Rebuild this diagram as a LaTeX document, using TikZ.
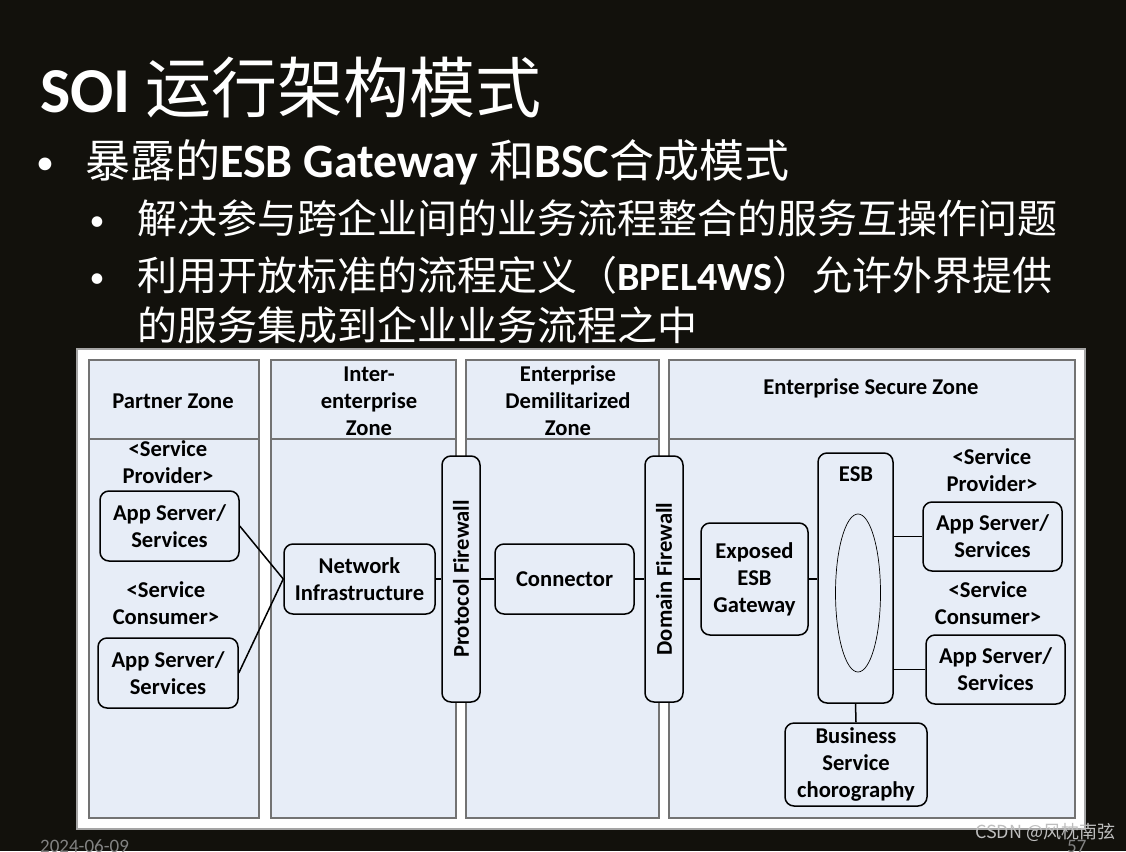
\documentclass[tikz,border=0pt]{standalone}
\usepackage{fontspec}
\usetikzlibrary{shapes.geometric}
\setmainfont{Carlito}
\newfontfamily\cjk{Noto Sans CJK SC}
\definecolor{bgdark}{RGB}{18,17,12}
\definecolor{zonefill}{RGB}{231,237,247}
\definecolor{zonegray}{RGB}{115,115,115}
\definecolor{panelgray}{RGB}{165,165,165}
\definecolor{footgray}{RGB}{130,130,130}
\definecolor{wmgray}{RGB}{190,190,190}
\begin{document}
\begin{tikzpicture}[x=1pt,y=-1pt,
  zone/.style={draw=zonegray, fill=zonefill, line width=1.1pt},
  box/.style={draw=black, fill=zonefill, line width=1.5pt, rounded corners=9pt,
    font=\bfseries\fontsize{22.6}{27}\selectfont, align=center, inner sep=0pt},
  lbl/.style={font=\bfseries\fontsize{22.6}{27}\selectfont, align=center, inner sep=0pt, text=black},
  link/.style={draw=black, line width=1.5pt},
  slide/.style={text=white, inner sep=0pt, anchor=base west},
  dot/.style={text=white, inner sep=0pt, anchor=base}
]
\useasboundingbox (0,0) rectangle (1126,851);
\fill[bgdark] (0,0) rectangle (1126,851);
\begin{scope}
\clip (0,0) rectangle (1126,851);

% ---- slide text ----
\node[slide] (title) at (40,112) {\fontsize{64}{70}\selectfont\bfseries SOI {\mdseries\fontsize{66}{70}\selectfont\cjk 运行架构模式}};
\node[dot] (d1) at (45,174) {\fontsize{36}{40}\selectfont •};
\node[slide] (b1) at (85,177) {\fontsize{45}{50}\selectfont{\cjk 暴露的}{\fontsize{48}{50}\selectfont\bfseries ESB Gateway }{\cjk 和}{\fontsize{48}{50}\selectfont\bfseries BSC}{\cjk 合成模式}};
\node[dot] (d2) at (97,230) {\fontsize{30}{34}\selectfont •};
\node[slide] (b2) at (137,233) {\fontsize{40}{46}\selectfont\cjk 解决参与跨企业间的业务流程整合的服务互操作问题};
\node[dot] (d3) at (97,287) {\fontsize{30}{34}\selectfont •};
\node[slide] (b3) at (137,290) {\fontsize{40}{46}\selectfont{\cjk 利用开放标准的流程定义（}\textbf{BPEL4WS}{\cjk ）允许外界提供}};
\node[slide] (b4) at (137,340) {\fontsize{40}{46}\selectfont\cjk 的服务集成到企业业务流程之中};

% ---- panel ----
\filldraw[fill=white, draw=panelgray, line width=1.2pt] (77,349) rectangle (1085,829);
\filldraw[zone] (89,360) rectangle (259,818);
\filldraw[zone] (271,360) rectangle (456,818);
\filldraw[zone] (466,360) rectangle (659,818);
\filldraw[zone] (669,360) rectangle (1075,818);
\draw[draw=zonegray, line width=1.1pt] (89,439) -- (259,439);
\draw[draw=zonegray, line width=1.1pt] (271,439) -- (456,439);
\draw[draw=zonegray, line width=1.1pt] (466,439) -- (659,439);
\draw[draw=zonegray, line width=1.1pt] (669,439) -- (1075,439);

% ---- zone headers ----
\node[lbl] (h1) at (173,401) {Partner Zone};
\node[lbl] (h2) at (369,401) {Inter-\\enterprise\\Zone};
\node[lbl] (h3) at (568,401) {Enterprise\\Demilitarized\\Zone};
\node[lbl] (h4) at (871,388) {Enterprise Secure Zone};

% ---- role labels ----
\node[lbl] (sp1) at (168,462.5) {<Service\\Provider>};
\node[lbl] (sc1) at (166,603.5) {<Service\\Consumer>};
\node[lbl] (sp2) at (992,470) {<Service\\Provider>};
\node[lbl] (sc2) at (988,603.5) {<Service\\Consumer>};

% ---- boxes ----
\node[box, minimum width=139pt, minimum height=70pt] (app1) at (169.5,526) {App Server/\\Services};
\node[box, minimum width=140pt, minimum height=70pt] (app2) at (168,673) {App Server/\\Services};
\node[box, minimum width=151pt, minimum height=70pt] (net) at (359.5,579) {Network\\Infrastructure};
\node[box, minimum width=38pt, minimum height=246pt] (pfw) at (461,579) {};
\node[lbl, rotate=90] (pfwt) at (pfw.center) {Protocol Firewall};
\node[box, minimum width=139pt, minimum height=70pt] (conn) at (564.5,579) {Connector};
\node[box, minimum width=38pt, minimum height=246pt] (dfw) at (664,579) {};
\node[lbl, rotate=90] (dfwt) at (dfw.center) {Domain Firewall};
\node[box, minimum width=107pt, minimum height=112pt] (exp) at (754.5,579) {Exposed\\ESB\\Gateway};
\node[box, minimum width=75pt, minimum height=250pt] (esb) at (855.5,578) {};
\node[lbl] (esbt) at (856,474) {ESB};
\node[draw=black, line width=0.7pt, ellipse, minimum width=45pt, minimum height=158pt, inner sep=0pt] (ell) at (858,593) {};
\node[box, minimum width=139pt, minimum height=69pt] (app3) at (992.5,536.5) {App Server/\\Services};
\node[box, minimum width=139pt, minimum height=69pt] (app4) at (995.5,669.5) {App Server/\\Services};
\node[box, minimum width=142pt, minimum height=83pt] (bsc) at (856,764.5) {Business\\Service\\chorography};

% ---- connectors ----
\draw[link] (app1.east) -- (net.west);
\draw[link] (app2.east) -- (net.west);
\draw[link] (net.east) -- (pfw.west);
\draw[link] (pfw.east) -- (conn.west);
\draw[link] (conn.east) -- (dfw.west);
\draw[link] (dfw.east) -- (exp.west);
\draw[link] (exp.east) -- (exp.east -| esb.west);
\draw[link] (app3.west) -- (app3.west -| esb.east);
\draw[link] (app4.west) -- (app4.west -| esb.east);
\draw[link] (esb.south) -- (bsc.north);

% ---- footer ----
\node[slide, text=footgray] (date) at (40,852) {\fontsize{19}{22}\selectfont 2024-06-09};
\node[slide, text=footgray] (page) at (1067,852) {\fontsize{19}{22}\selectfont 57};
\node[slide, text=wmgray] (wm) at (975,838) {\fontsize{18}{22}\selectfont\cjk CSDN @风枕南弦};
\end{scope}
\end{tikzpicture}
\end{document}
